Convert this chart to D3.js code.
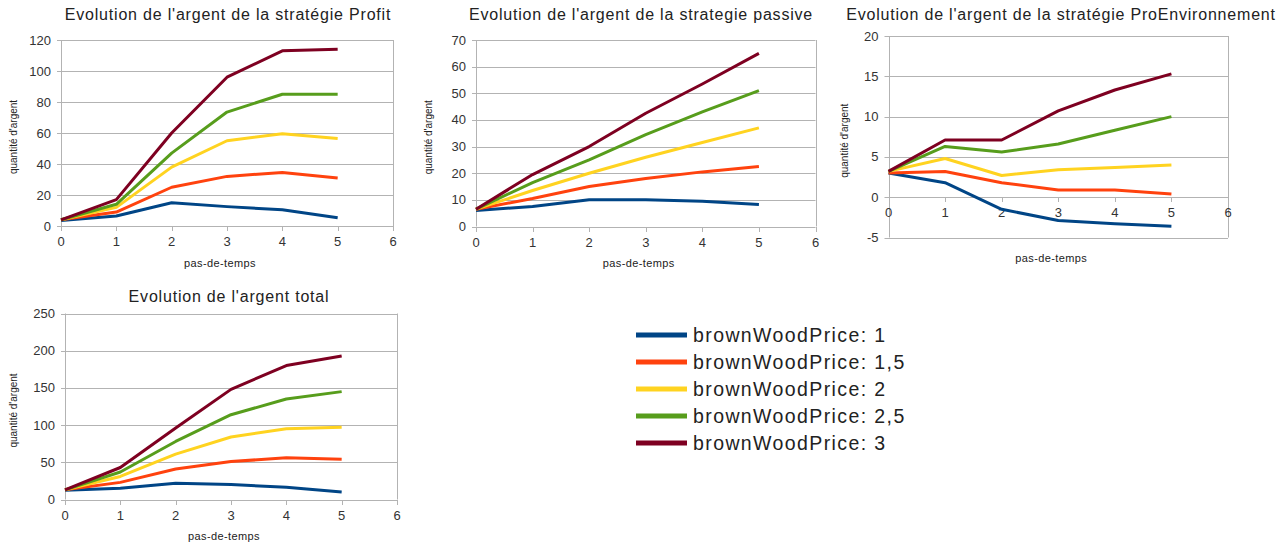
<!DOCTYPE html>
<html><head><meta charset="utf-8">
<script src="https://cdn.jsdelivr.net/npm/d3@7"></script>
<style>
body{margin:0;background:#fff;}
svg{font-family:"Liberation Sans",Arial,sans-serif;}
</style></head><body>
<svg id="c" width="1285" height="544"></svg>
<script>
const steps = [0,1,2,3,4,5];
const seriesNames = ["brownWoodPrice: 1","brownWoodPrice: 1,5","brownWoodPrice: 2","brownWoodPrice: 2,5","brownWoodPrice: 3"];
const colors = ["#004586","#ff420e","#ffd320","#579d1c","#7e0021"];

const profit1   = [3.5, 6.5, 15, 12.5, 10.5, 5.3];
const profit15  = [4, 9, 25, 32, 34.5, 31];
const profit2   = [4, 12, 38, 55, 59.5, 56.5];
const profit25  = [4, 14, 47, 73.5, 85, 85];
const profit3   = [4, 17, 60, 96, 113, 114];

const passive1  = [6, 7.5, 10, 10, 9.5, 8.3];
const passive15 = [6.5, 10.5, 15, 18, 20.5, 22.5];
const passive2  = [6.5, 13.5, 20, 26, 31.5, 37];
const passive25 = [6.5, 16.5, 25, 34.5, 43, 51];
const passive3  = [6.5, 19.5, 30, 42.5, 53.5, 65];

const pro1  = [3, 1.8, -1.5, -2.9, -3.3, -3.6];
const pro15 = [3, 3.2, 1.8, 0.9, 0.9, 0.4];
const pro2  = [3.2, 4.8, 2.7, 3.4, 3.7, 4];
const pro25 = [3.2, 6.3, 5.6, 6.6, 8.3, 10];
const pro3  = [3.2, 7.1, 7.1, 10.7, 13.3, 15.3];

const total1  = [12.5, 15, 22, 20, 16.5, 10];
const total15 = [13, 23, 41, 51, 56, 54];
const total2  = [13, 31, 61, 84, 95, 97];
const total25 = [13, 37, 78, 114, 135, 145];
const total3  = [13, 43, 96, 148, 180, 193];

const xTicks = [0,1,2,3,4,5,6];
const yTicksProfit = [0,20,40,60,80,100,120];
const yTicksPassive = [0,10,20,30,40,50,60,70];
const yTicksPro = [-5,0,5,10,15,20];
const yTicksTotal = [0,50,100,150,200,250];

const titles = ["Evolution de l'argent de la stratégie Profit","Evolution de l'argent de la strategie passive","Evolution de l'argent de la stratégie ProEnvironnement","Evolution de l'argent total"];
const xLabel = "pas-de-temps";
const yLabel = "quantité d'argent";

const svg = d3.select("#c");

const charts = [
  {title:titles[0], data:[profit1,profit15,profit2,profit25,profit3], yTicks:yTicksProfit,
   x0:61, x1:393, yTop:40, yBot:226, titleX:228, titleY:20, yLabX:17, xLabY:267},
  {title:titles[1], data:[passive1,passive15,passive2,passive25,passive3], yTicks:yTicksPassive,
   x0:476, x1:815.5, yTop:40, yBot:226.5, titleX:641, titleY:20, yLabX:432, xLabY:267},
  {title:titles[2], data:[pro1,pro15,pro2,pro25,pro3], yTicks:yTicksPro,
   x0:888.5, x1:1228, yTop:36, yBot:237.5, titleX:1061, titleY:20, yLabX:848, xLabY:262},
  {title:titles[3], data:[total1,total15,total2,total25,total3], yTicks:yTicksTotal,
   x0:65, x1:397, yTop:313.5, yBot:499.5, titleX:229, titleY:302, yLabX:17, xLabY:540}
];

charts.forEach(c => {
  const g = svg.append("g");
  const x = d3.scaleLinear().domain([0,6]).range([c.x0,c.x1]);
  const yd = d3.extent(c.yTicks);
  const y = d3.scaleLinear().domain(yd).range([c.yBot,c.yTop]);
  const y0 = y(Math.max(0, yd[0]));

  g.selectAll(".grid").data(c.yTicks).join("line")
    .attr("x1",c.x0-4).attr("x2",c.x1)
    .attr("y1",d=>Math.round(y(d))+0.5).attr("y2",d=>Math.round(y(d))+0.5)
    .attr("stroke","#b3b3b3").attr("stroke-width",1);
  g.append("line").attr("x1",Math.round(c.x1)+0.5).attr("x2",Math.round(c.x1)+0.5)
    .attr("y1",c.yTop).attr("y2",c.yBot).attr("stroke","#b3b3b3");
  g.append("line").attr("x1",Math.round(c.x0)+0.5).attr("x2",Math.round(c.x0)+0.5)
    .attr("y1",c.yTop).attr("y2",c.yBot).attr("stroke","#b3b3b3");
  g.selectAll(".xt").data(xTicks).join("line")
    .attr("x1",d=>Math.round(x(d))+0.5).attr("x2",d=>Math.round(x(d))+0.5)
    .attr("y1",Math.round(y0)).attr("y2",Math.round(y0)+5)
    .attr("stroke","#b3b3b3");
  g.selectAll(".yl").data(c.yTicks).join("text")
    .attr("x",c.x0-10).attr("y",d=>y(d)+4.5)
    .attr("text-anchor","end").attr("font-size",13).attr("fill","#333")
    .text(d=>d);
  g.selectAll(".xl").data(xTicks).join("text")
    .attr("x",d=>x(d)).attr("y",y0+20)
    .attr("text-anchor","middle").attr("font-size",13).attr("fill","#333")
    .text(d=>d);
  g.append("text").attr("x",c.titleX).attr("y",c.titleY).attr("text-anchor","middle")
    .attr("font-size",16).attr("letter-spacing",0.8).attr("fill","#222").text(c.title);
  g.append("text").attr("x",(c.x0+c.x1)/2 - 7).attr("y",c.xLabY).attr("text-anchor","middle")
    .attr("font-size",11).attr("letter-spacing",0.4).attr("fill","#222").text(xLabel);
  g.append("text").attr("transform",`translate(${c.yLabX},${(c.yTop+c.yBot)/2+4}) rotate(-90)`)
    .attr("text-anchor","middle").attr("font-size",10).attr("fill","#222").text(yLabel);

  const line = d3.line().x((d,i)=>x(steps[i])).y(d=>y(d));
  c.data.forEach((s,k) => {
    g.append("path").attr("d",line(s)).attr("fill","none")
      .attr("stroke",colors[k]).attr("stroke-width",3).attr("stroke-linejoin","round");
  });
});

const lg = svg.append("g");
seriesNames.forEach((n,k) => {
  const yy = 335 + k*27;
  lg.append("line").attr("x1",636).attr("x2",687).attr("y1",yy).attr("y2",yy)
    .attr("stroke",colors[k]).attr("stroke-width",5);
  lg.append("text").attr("x",693).attr("y",yy+7).attr("font-size",19.5)
    .attr("letter-spacing",1.4).attr("fill","#222").text(n);
});
</script>
</body></html>
